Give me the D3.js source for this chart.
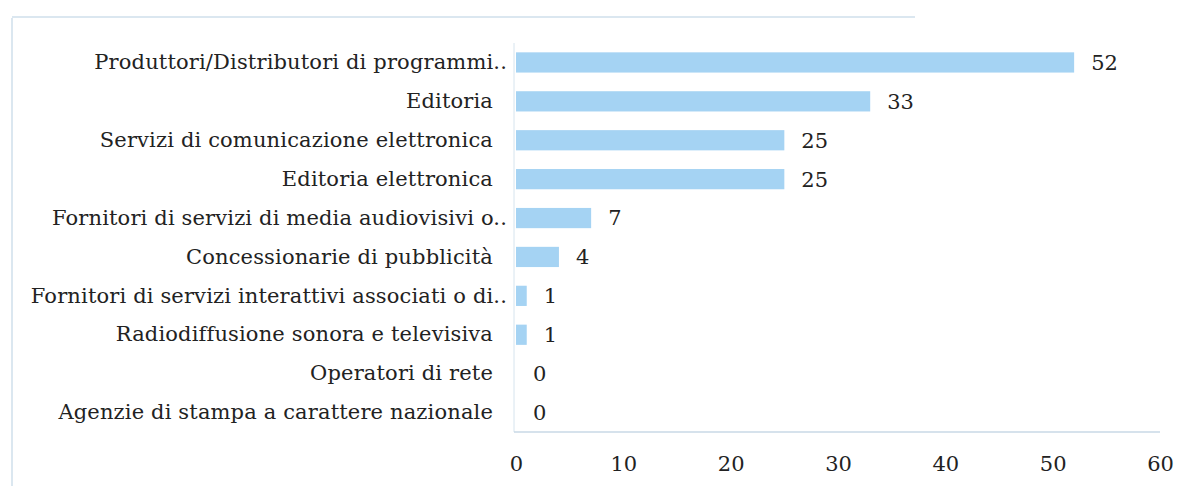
<!DOCTYPE html>
<html><head><meta charset="utf-8">
<script src="https://cdn.jsdelivr.net/npm/d3@7"></script>
<style>body{margin:0;background:#fff}svg{display:block}</style>
</head><body>
<script>
const categories = [
  "Produttori/Distributori di programmi..",
  "Editoria",
  "Servizi di comunicazione elettronica",
  "Editoria elettronica",
  "Fornitori di servizi di media audiovisivi o..",
  "Concessionarie di pubblicità",
  "Fornitori di servizi interattivi associati o di..",
  "Radiodiffusione sonora e televisiva",
  "Operatori di rete",
  "Agenzie di stampa a carattere nazionale"
];
const values = [52, 33, 25, 25, 7, 4, 1, 1, 0, 0];
const tickValues = [0, 10, 20, 30, 40, 50, 60];

const W = 1194, H = 486;
const svg = d3.select("body").append("svg").attr("width", W).attr("height", H);
const font = "'DejaVu Serif', serif";
const fs = 21;

// faint frame
svg.append("line").attr("x1",12).attr("x2",12).attr("y1",18).attr("y2",H).attr("stroke","#dbe7f0").attr("stroke-width",2);
svg.append("line").attr("x1",12).attr("x2",915).attr("y1",17).attr("y2",17).attr("stroke","#dbe7f0").attr("stroke-width",2);

const x = d3.scaleLinear().domain([0, 60]).range([516, 1160]);
const y = d3.scaleBand().domain(categories).range([43, 432]).paddingInner(0.48).paddingOuter(0.24);

// axis lines
svg.append("line").attr("x1",514).attr("x2",514).attr("y1",43).attr("y2",432).attr("stroke","#d6e4ee").attr("stroke-width",1);
svg.append("line").attr("x1",514).attr("x2",1160).attr("y1",432).attr("y2",432).attr("stroke","#c9d9e6").attr("stroke-width",1.5);

svg.append("g").selectAll("rect").data(values).join("rect")
  .attr("x", x(0))
  .attr("y", (d,i) => y(categories[i]))
  .attr("width", d => x(d) - x(0))
  .attr("height", y.bandwidth())
  .attr("fill", "#a5d3f3");

svg.append("g").selectAll("text").data(values).join("text")
  .attr("x", d => x(d) + 17)
  .attr("y", (d,i) => y(categories[i]) + y.bandwidth()/2)
  .attr("dy", "0.35em")
  .attr("font-family", font).attr("font-size", fs).attr("fill", "#222")
  .text(d => d);

const yAxis = d3.axisLeft(y).tickSize(0).tickPadding(21);
const gy = svg.append("g").attr("transform", "translate(514,0)").call(yAxis);
gy.select(".domain").remove();
gy.selectAll("text").attr("font-family", font).attr("font-size", fs).attr("fill", "#222")
  .attr("letter-spacing", 0.15)
  .attr("dx", d => d.endsWith("..") ? 14 : 0);

const xAxis = d3.axisBottom(x).tickValues(tickValues).tickSize(0).tickPadding(24);
const gx = svg.append("g").attr("transform", "translate(0,432)").call(xAxis);
gx.select(".domain").remove();
gx.selectAll("text").attr("font-family", font).attr("font-size", fs).attr("fill", "#222");
</script>
</body></html>
